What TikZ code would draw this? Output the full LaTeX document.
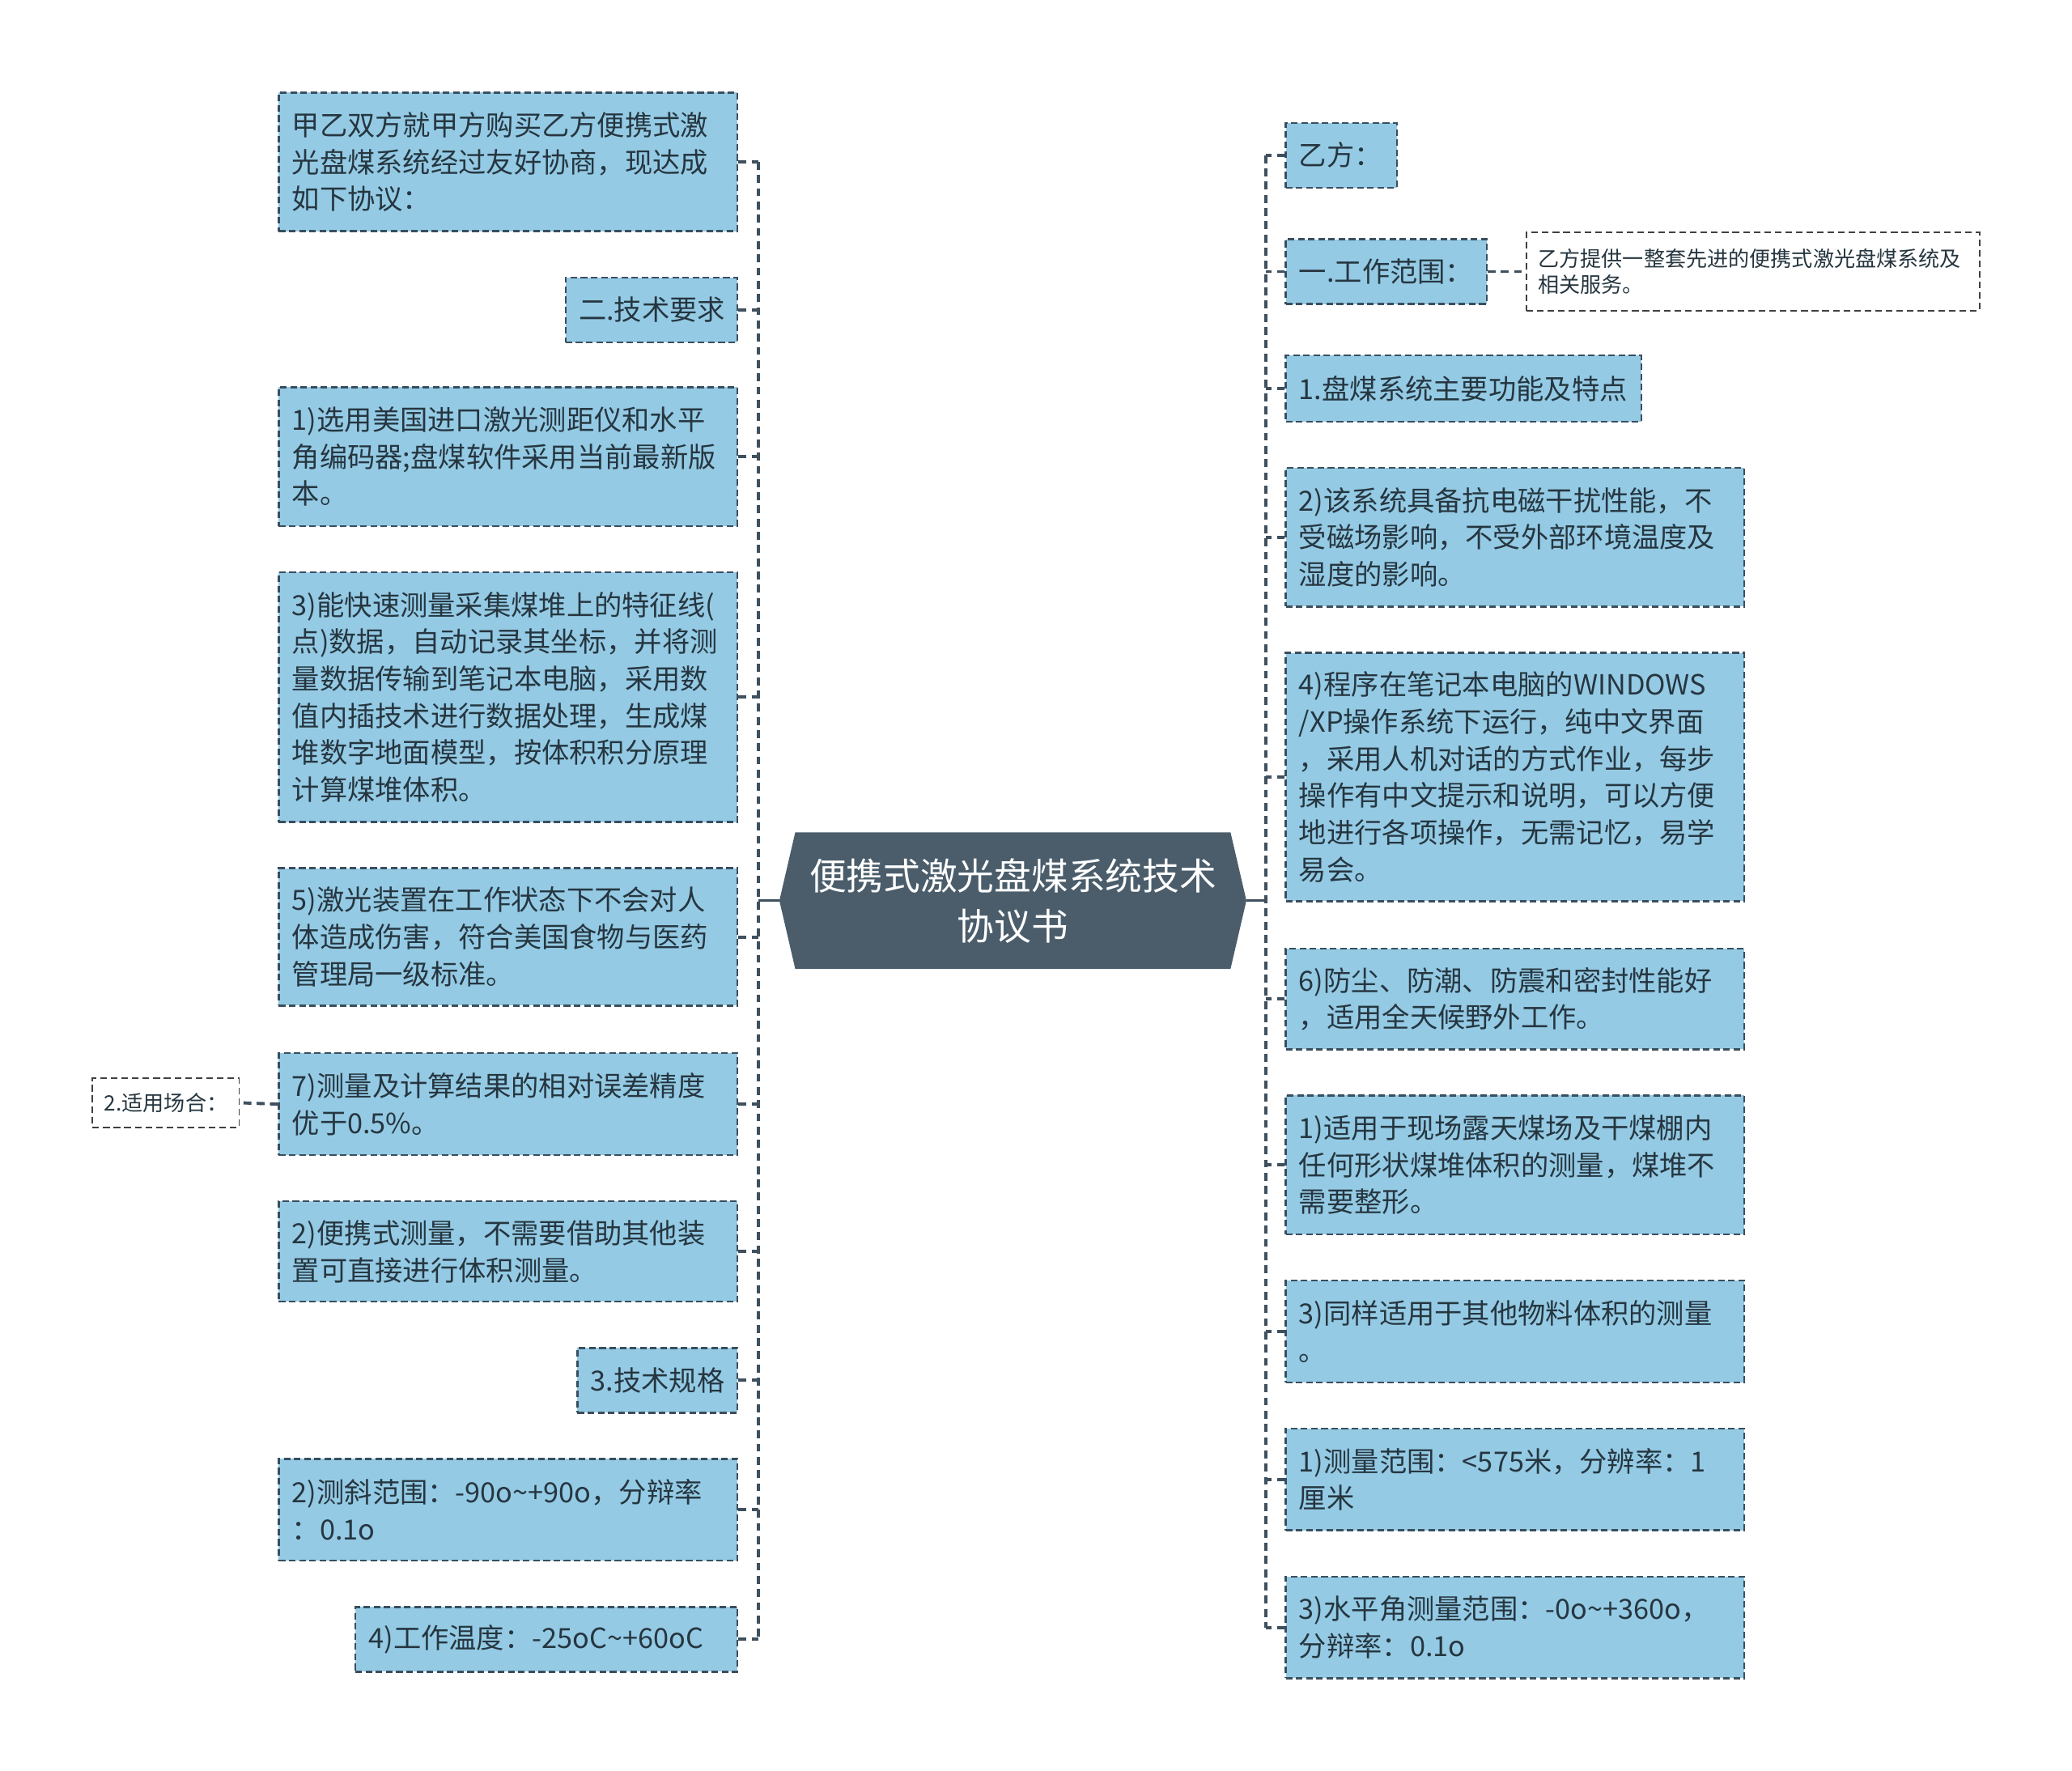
\documentclass[tikz,border=0pt]{standalone}
\usepackage{fontspec}
\setmainfont{Noto Sans CJK SC}
\usetikzlibrary{backgrounds}
\definecolor{boxfill}{HTML}{94CAE4}
\definecolor{boxline}{HTML}{3A4E5E}
\definecolor{txt}{HTML}{263640}
\definecolor{rootfill}{HTML}{4B5D6B}
\definecolor{connc}{HTML}{3F505E}
\tikzset{
 box/.style={draw=boxline, fill=boxfill, line width=1.5pt, dash pattern=on 5pt off 2.7pt, inner xsep=10pt, inner ysep=0pt, align=left, text=txt, font=\fontsize{21}{28}\selectfont, anchor=center},
 note/.style={draw=black!75, fill=white, line width=1.1pt, dash pattern=on 5pt off 3pt, inner xsep=9pt, inner ysep=0pt, align=left, text=txt, font=\fontsize{16}{20}\selectfont, anchor=center},
 conn/.style={draw=connc, line width=2.4pt, dash pattern=on 6pt off 4pt},
 rootconn/.style={draw=connc, line width=2pt},
}
\begin{document}
\begin{tikzpicture}[x=1pt,y=-1pt]
\useasboundingbox (0,0) rectangle (1568,1340);

% root
\node[text=white, font=\fontsize{28}{38}\selectfont, align=center, minimum width=353pt, minimum height=103pt, inner sep=0pt] (root) at (766.5,681.5) {便携式激光盘煤系统技术\\协议书};
\begin{scope}[on background layer]
\fill[rootfill] ([xshift=12pt]root.north west) -- (root.west) -- ([xshift=12pt]root.south west) -- ([xshift=-12pt]root.south east) -- (root.east) -- ([xshift=-12pt]root.north east) -- cycle;
\end{scope}

% left column
\node[box, minimum width=347pt, minimum height=105pt, text width=327pt] (A1) at (384.5,122.5) {甲乙双方就甲方购买乙方便携式激\\光盘煤系统经过友好协商，现达成\\如下协议：};
\node[box, minimum width=130pt, minimum height=49pt, text width=110pt] (A2) at (493,234.5) {二.技术要求};
\node[box, minimum width=347pt, minimum height=105pt, text width=327pt] (A3) at (384.5,345.5) {1)选用美国进口激光测距仪和水平\\角编码器;盘煤软件采用当前最新版\\本。};
\node[box, minimum width=347pt, minimum height=189pt, text width=327pt] (A4) at (384.5,527.5) {3)能快速测量采集煤堆上的特征线(\\点)数据，自动记录其坐标，并将测\\量数据传输到笔记本电脑，采用数\\值内插技术进行数据处理，生成煤\\堆数字地面模型，按体积积分原理\\计算煤堆体积。};
\node[box, minimum width=347pt, minimum height=104pt, text width=327pt] (A5) at (384.5,709) {5)激光装置在工作状态下不会对人\\体造成伤害，符合美国食物与医药\\管理局一级标准。};
\node[box, minimum width=347pt, minimum height=77pt, text width=327pt] (A6) at (384.5,835.5) {7)测量及计算结果的相对误差精度\\优于0.5\%。};
\node[note, minimum width=111pt, minimum height=37pt, text width=93pt] (A6b) at (125.5,834.5) {2.适用场合：};
\node[box, minimum width=347pt, minimum height=76pt, text width=327pt] (A7) at (384.5,947) {2)便携式测量，不需要借助其他装\\置可直接进行体积测量。};
\node[box, minimum width=121pt, minimum height=49pt, text width=101pt] (A8) at (497.5,1044.5) {3.技术规格};
\node[box, minimum width=347pt, minimum height=77pt, text width=327pt] (A9) at (384.5,1142.5) {2)测斜范围：-90o\textasciitilde+90o，分辩率\\：0.1o};
\node[box, minimum width=289pt, minimum height=49pt, text width=269pt] (A10) at (413.5,1240.5) {4)工作温度：-25oC\textasciitilde+60oC};

% right column
\node[box, minimum width=84pt, minimum height=49pt, text width=64pt] (B1) at (1015,117.5) {乙方：};
\node[box, minimum width=152pt, minimum height=49pt, text width=132pt] (B2) at (1049,205.5) {一.工作范围：};
\node[note, minimum width=343pt, minimum height=59pt, text width=325pt] (B2b) at (1326.5,205.5) {乙方提供一整套先进的便携式激光盘煤系统及\\相关服务。};
\node[box, minimum width=269pt, minimum height=50pt, text width=249pt] (B3) at (1107.5,294) {1.盘煤系统主要功能及特点};
\node[box, minimum width=347pt, minimum height=105pt, text width=327pt] (B4) at (1146.5,406.5) {2)该系统具备抗电磁干扰性能，不\\受磁场影响，不受外部环境温度及\\湿度的影响。};
\node[box, minimum width=347pt, minimum height=188pt, text width=327pt] (B5) at (1146.5,588) {4)程序在笔记本电脑的WINDOWS\\/XP操作系统下运行，纯中文界面\\，采用人机对话的方式作业，每步\\操作有中文提示和说明，可以方便\\地进行各项操作，无需记忆，易学\\易会。};
\node[box, minimum width=347pt, minimum height=76pt, text width=327pt] (B6) at (1146.5,756) {6)防尘、防潮、防震和密封性能好\\，适用全天候野外工作。};
\node[box, minimum width=347pt, minimum height=105pt, text width=327pt] (B7) at (1146.5,881.5) {1)适用于现场露天煤场及干煤棚内\\任何形状煤堆体积的测量，煤堆不\\需要整形。};
\node[box, minimum width=347pt, minimum height=77pt, text width=327pt] (B8) at (1146.5,1007.5) {3)同样适用于其他物料体积的测量\\。};
\node[box, minimum width=347pt, minimum height=77pt, text width=327pt] (B9) at (1146.5,1119.5) {1)测量范围：<575米，分辨率：1\\厘米};
\node[box, minimum width=347pt, minimum height=77pt, text width=327pt] (B10) at (1146.5,1231.5) {3)水平角测量范围：-0o\textasciitilde+360o，\\分辩率：0.1o};

% trunks
\coordinate (tl) at (574,681.5);
\coordinate (tr) at (958,681.5);
\draw[rootconn] (root.west) -- (tl);
\draw[rootconn] (root.east) -- (tr);
\draw[conn] (A1.east -| tl) -- (A10.east -| tl);
\draw[conn] (B1.west -| tr) -- (B10.west -| tr);
\foreach \n in {A1,A2,A3,A4,A5,A6,A7,A8,A9,A10} {\draw[conn] (\n.east) -- (\n.east -| tl);}
\foreach \n in {B1,B2,B3,B4,B5,B6,B7,B8,B9,B10} {\draw[conn] (\n.west) -- (\n.west -| tr);}
\draw[conn] (A6.west) -- (A6b.east);
\draw[conn] (B2.east) -- (B2b.west);
\end{tikzpicture}
\end{document}
